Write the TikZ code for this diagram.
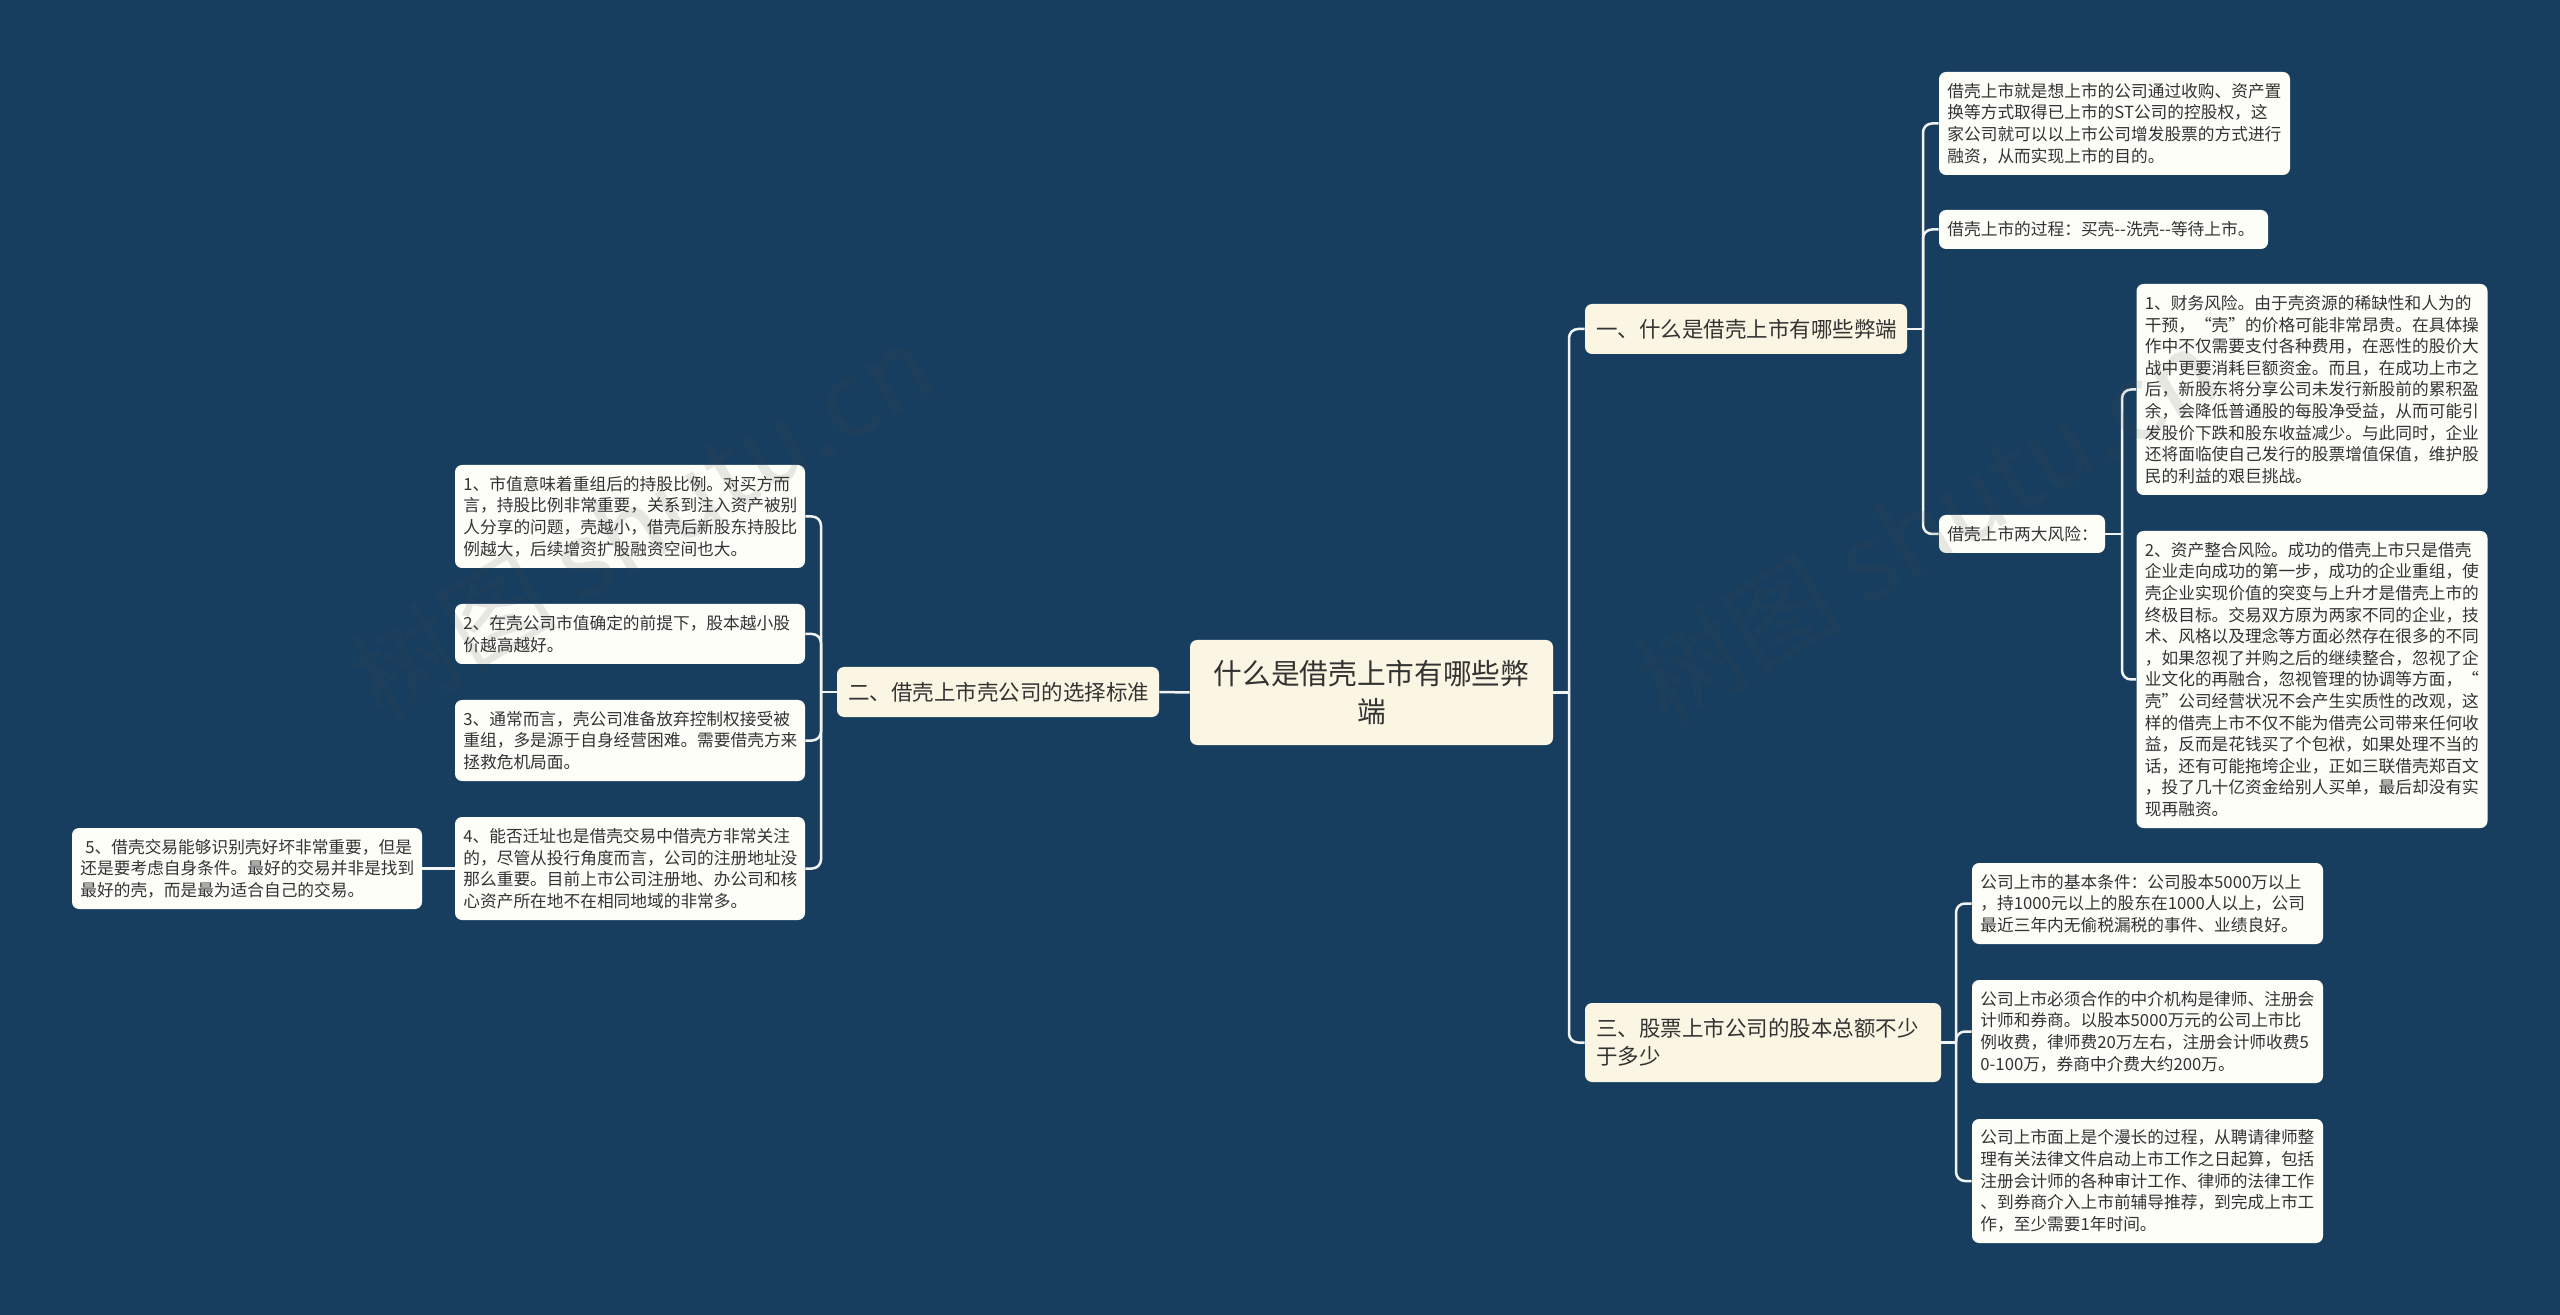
\documentclass[tikz,border=0pt]{standalone}
\usepackage{fontspec}
\setmainfont{Noto Sans CJK SC}
\definecolor{navyback}{HTML}{173E5F}
\definecolor{creamfill}{HTML}{FBF6E3}
\definecolor{paperfill}{HTML}{FEFEF9}
\definecolor{inktext}{HTML}{333333}
\definecolor{linkwhite}{HTML}{F2F4F4}
\definecolor{markgray}{HTML}{4D4D4D}

\begin{document}
\begin{tikzpicture}[x=0.5pt,y=-0.5pt]
\tikzstyle{every node}=[text=inktext]
\tikzstyle{linkline}=[draw=linkwhite,line width=1.25pt,rounded corners=4.5pt]
\tikzstyle{markwater}=[font=\fontsize{52}{60}\selectfont,text=markgray,text opacity=.13,inner sep=0pt,rotate=31]
\tikzset{
	leafnode/.style 2 args={fill=paperfill,rounded corners=3.5pt,align=left,inner xsep=4.2pt,inner ysep=0pt,
		font=\fontsize{8.35}{10.8}\selectfont,text width=#1*0.5pt-8.4pt,minimum height=#2*0.5pt},
	topicnode/.style 2 args={fill=creamfill,rounded corners=3.5pt,align=left,inner xsep=5.5pt,inner ysep=0pt,
		font=\fontsize{10.75}{14}\selectfont,text width=#1*0.5pt-11pt,minimum height=#2*0.5pt},
	rootnode/.style 2 args={fill=creamfill,rounded corners=3.5pt,align=center,inner xsep=5.5pt,inner ysep=0pt,
		font=\fontsize{14.35}{19}\selectfont,text width=#1*0.5pt-11pt,minimum height=#2*0.5pt}
}
\fill[navyback] (0,0) rectangle (2560,1315);
\useasboundingbox (0,0) rectangle (2560,1315);

\node[rootnode={363}{105}] (root) at (1371.5,692.5) {什么是借壳上市有哪些弊\\端};

\node[topicnode={322}{50}] (one) at (1746,329) {一、什么是借壳上市有哪些弊端};
\node[topicnode={322}{50}] (two) at (998,692) {二、借壳上市壳公司的选择标准};
\node[topicnode={356}{79}] (three) at (1763,1042.5) {三、股票上市公司的股本总额不少\\于多少};

\node[leafnode={351}{103}] (define) at (2114.5,123.5) {借壳上市就是想上市的公司通过收购、资产置\\换等方式取得已上市的ST公司的控股权，这\\家公司就可以以上市公司增发股票的方式进行\\融资，从而实现上市的目的。};
\node[leafnode={329}{39}] (process) at (2103.5,229.5) {借壳上市的过程：买壳-{}-洗壳-{}-等待上市。};
\node[leafnode={166}{38}] (risks) at (2022,534) {借壳上市两大风险：};
\node[leafnode={351}{211}] (riskone) at (2312,389.5) {1、财务风险。由于壳资源的稀缺性和人为的\\干预，“壳”的价格可能非常昂贵。在具体操\\作中不仅需要支付各种费用，在恶性的股价大\\战中更要消耗巨额资金。而且，在成功上市之\\后，新股东将分享公司未发行新股前的累积盈\\余，会降低普通股的每股净受益，从而可能引\\发股价下跌和股东收益减少。与此同时，企业\\还将面临使自己发行的股票增值保值，维护股\\民的利益的艰巨挑战。};
\node[leafnode={351}{297}] (risktwo) at (2312,679.5) {2、资产整合风险。成功的借壳上市只是借壳\\企业走向成功的第一步，成功的企业重组，使\\壳企业实现价值的突变与上升才是借壳上市的\\终极目标。交易双方原为两家不同的企业，技\\术、风格以及理念等方面必然存在很多的不同\\，如果忽视了并购之后的继续整合，忽视了企\\业文化的再融合，忽视管理的协调等方面，“\\壳”公司经营状况不会产生实质性的改观，这\\样的借壳上市不仅不能为借壳公司带来任何收\\益，反而是花钱买了个包袱，如果处理不当的\\话，还有可能拖垮企业，正如三联借壳郑百文\\，投了几十亿资金给别人买单，最后却没有实\\现再融资。};

\node[leafnode={350}{103}] (sizeone) at (630,516.5) {1、市值意味着重组后的持股比例。对买方而\\言，持股比例非常重要，关系到注入资产被别\\人分享的问题，壳越小，借壳后新股东持股比\\例越大，后续增资扩股融资空间也大。};
\node[leafnode={350}{60}] (sizetwo) at (630,634) {2、在壳公司市值确定的前提下，股本越小股\\价越高越好。};
\node[leafnode={350}{81}] (sizethree) at (630,740.5) {3、通常而言，壳公司准备放弃控制权接受被\\重组，多是源于自身经营困难。需要借壳方来\\拯救危机局面。};
\node[leafnode={350}{103}] (sizefour) at (630,868.5) {4、能否迁址也是借壳交易中借壳方非常关注\\的，尽管从投行角度而言，公司的注册地址没\\那么重要。目前上市公司注册地、办公司和核\\心资产所在地不在相同地域的非常多。};
\node[leafnode={350}{81}] (sizefive) at (247,868.5) {\hspace{2.5pt}5、借壳交易能够识别壳好坏非常重要，但是\\还是要考虑自身条件。最好的交易并非是找到\\最好的壳，而是最为适合自己的交易。};

\node[leafnode={351}{81}] (basic) at (2147.5,903.5) {公司上市的基本条件：公司股本5000万以上\\，持1000元以上的股东在1000人以上，公司\\最近三年内无偷税漏税的事件、业绩良好。};
\node[leafnode={351}{103}] (agent) at (2147.5,1031.5) {公司上市必须合作的中介机构是律师、注册会\\计师和券商。以股本5000万元的公司上市比\\例收费，律师费20万左右，注册会计师收费5\\0-100万，券商中介费大约200万。};
\node[leafnode={351}{124}] (period) at (2147.5,1181) {公司上市面上是个漫长的过程，从聘请律师整\\理有关法律文件启动上市工作之日起算，包括\\注册会计师的各种审计工作、律师的法律工作\\、到券商介入上市前辅导推荐，到完成上市工\\作，至少需要1年时间。};

\coordinate (busroot) at (1569,692);
\coordinate (busone) at (1923,329);
\coordinate (busrisk) at (2122,534);
\coordinate (bustwo) at (821,692);
\coordinate (busthree) at (1956,1042);

\draw[linkline] (root.west) -- (two.east);
\draw[linkline] (root.east) -- (busroot |- root.east);
\foreach \kid in {one,three}
	\draw[linkline] (busroot |- root.east) |- (\kid.west);

\draw[linkline] (one.east) -- (busone |- one.east);
\foreach \kid in {define,process,risks}
	\draw[linkline] (busone |- one.east) |- (\kid.west);

\draw[linkline] (risks.east) -- (busrisk |- risks.east);
\foreach \kid in {riskone,risktwo}
	\draw[linkline] (busrisk |- risks.east) |- (\kid.west);

\draw[linkline] (two.west) -- (bustwo |- two.west);
\foreach \kid in {sizeone,sizetwo,sizethree,sizefour}
	\draw[linkline] (bustwo |- two.west) |- (\kid.east);
\draw[linkline] (sizefour.west) -- (sizefive.east);

\draw[linkline] (three.east) -- (busthree |- three.east);
\foreach \kid in {basic,agent,period}
	\draw[linkline] (busthree |- three.east) |- (\kid.west);

\node[markwater] (markleft) at (642,522) {树图 shutu.cn};
\node[markwater] (markright) at (1927,525) {树图 shutu.cn};
\end{tikzpicture}
\end{document}
